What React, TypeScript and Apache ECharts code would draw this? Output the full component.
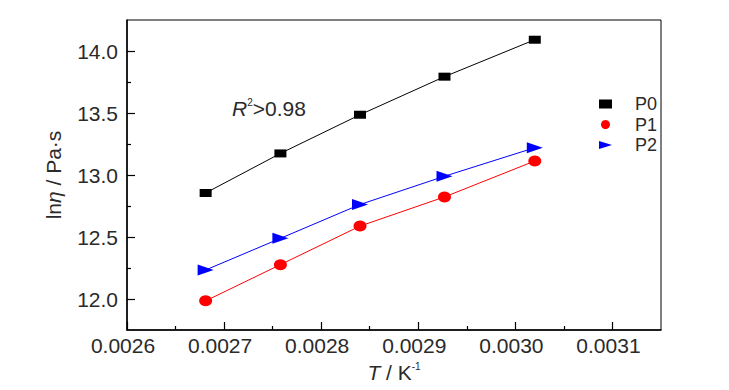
import React, { useEffect, useRef } from 'react';
import * as echarts from 'echarts';

const invT = [0.002681, 0.002758, 0.00284, 0.002927, 0.00302];
const p0 = [12.855, 13.174, 13.486, 13.793, 14.091];
const p1 = [11.985, 12.277, 12.588, 12.823, 13.113];
const p2 = [12.234, 12.489, 12.762, 12.99, 13.22];
const seriesNames = ['P0', 'P1', 'P2'];
const xTicks = [0.0026, 0.0027, 0.0028, 0.0029, 0.003, 0.0031];
const xMinorTicks = [0.00265, 0.00275, 0.00285, 0.00295, 0.00305];
const yTicks = [12.0, 12.5, 13.0, 13.5, 14.0];
const yMinorTicks = [12.25, 12.75, 13.25, 13.75];
const annotation = '>0.98';

const FONT = "'Liberation Sans Narrow','Arial Narrow','Liberation Sans',Arial,sans-serif";
const TXT = '#2a2a2a';
const FS = 21;

export default function App() {
  const ref = useRef<HTMLDivElement>(null);
  useEffect(() => {
    if (!ref.current) return;
    const chart = echarts.init(ref.current, null, { renderer: 'svg' });
    const pts = (ys: number[]) => invT.map((x, i) => [x, ys[i]]);
    const baseText = { fontFamily: FONT, color: TXT };
    chart.setOption({
      animation: false,
      grid: { left: 127, right: 68, top: 20, bottom: 60, show: true, borderColor: '#000', borderWidth: 1, backgroundColor: 'transparent' },
      legend: {
        orient: 'vertical',
        left: 599,
        top: 94,
        padding: 0,
        itemWidth: 13,
        itemHeight: 9,
        itemGap: 0.5,
        data: [
          { name: seriesNames[0], icon: 'rect' },
          { name: seriesNames[1], icon: 'circle' },
          { name: seriesNames[2], icon: 'path://M0,0L16,5L0,10Z' },
        ],
        textStyle: { ...baseText, fontSize: 18, lineHeight: 20, padding: [0, 0, 0, 18] },
      },
      xAxis: [
        {
          type: 'value', min: 0.0026, max: 0.00315, position: 'bottom',
          axisLine: { show: true, lineStyle: { color: '#000', width: 1.5 } },
          splitLine: { show: false },
          axisTick: { show: true, inside: true, length: 8, customValues: xTicks, lineStyle: { color: '#000', width: 1.2 } },
          axisLabel: { customValues: xTicks, formatter: (v: number) => v.toFixed(4), fontSize: FS, margin: 5, padding: [0, 8, 0, 0], ...baseText },
          name: '{i|T}{n| / K}{s|-1}',
          nameLocation: 'middle',
          nameGap: 31,
          nameTextStyle: {
            rich: {
              i: { ...baseText, fontSize: FS, fontStyle: 'italic', lineHeight: 22, verticalAlign: 'bottom' },
              n: { ...baseText, fontSize: FS, lineHeight: 22, verticalAlign: 'bottom' },
              s: { ...baseText, fontSize: 10, lineHeight: 11, verticalAlign: 'top' },
            },
          },
        },
        {
          type: 'value', min: 0.0026, max: 0.00315, position: 'bottom',
          axisLine: { show: false }, splitLine: { show: false },
          axisTick: { show: true, inside: true, length: 4, customValues: xMinorTicks, lineStyle: { color: '#000', width: 1.2 } },
          axisLabel: { show: false },
        },
      ],
      yAxis: [
        {
          type: 'value', min: 11.75, max: 14.25, position: 'left',
          axisLine: { show: true, lineStyle: { color: '#000', width: 1.5 } },
          splitLine: { show: false },
          axisTick: { show: true, inside: true, length: 8, customValues: yTicks, lineStyle: { color: '#000', width: 1.2 } },
          axisLabel: { customValues: yTicks, formatter: (v: number) => v.toFixed(1), fontSize: FS, margin: 9, ...baseText },
          name: '{n|ln}{i|η}{n| / Pa·s}',
          nameLocation: 'middle',
          nameRotate: 90,
          nameGap: 63,
          nameTextStyle: {
            rich: {
              i: { ...baseText, fontSize: FS, fontStyle: 'italic' },
              n: { ...baseText, fontSize: FS },
            },
          },
        },
        {
          type: 'value', min: 11.75, max: 14.25, position: 'left',
          axisLine: { show: false }, splitLine: { show: false },
          axisTick: { show: true, inside: true, length: 4, customValues: yMinorTicks, lineStyle: { color: '#000', width: 1.2 } },
          axisLabel: { show: false },
        },
      ],
      graphic: [
        {
          type: 'text', left: 232, top: 97,
          style: {
            text: '{i|R}{s|2}{n|' + annotation + '}',
            rich: {
              i: { fontFamily: FONT, fill: TXT, fontSize: FS, fontStyle: 'italic', lineHeight: 22, verticalAlign: 'bottom' },
              n: { fontFamily: FONT, fill: TXT, fontSize: FS, lineHeight: 22, verticalAlign: 'bottom' },
              s: { fontFamily: FONT, fill: TXT, fontSize: 10, lineHeight: 11, verticalAlign: 'top' },
            },
          },
        },
      ],
      series: [
        { name: seriesNames[0], type: 'line', data: pts(p0), symbol: 'rect', symbolSize: [12, 8], color: '#000', lineStyle: { width: 1, color: '#000' }, itemStyle: { color: '#000' } },
        { name: seriesNames[1], type: 'line', data: pts(p1), symbol: 'circle', symbolSize: [13, 11], color: '#ff0000', lineStyle: { width: 1, color: '#ff0000' }, itemStyle: { color: '#ff0000' } },
        { name: seriesNames[2], type: 'line', data: pts(p2), symbol: 'triangle', symbolRotate: -90, symbolSize: [11, 16], color: '#0000ff', lineStyle: { width: 1, color: '#0000ff' }, itemStyle: { color: '#0000ff' } },
      ],
    });
    return () => chart.dispose();
  }, []);
  return <div ref={ref} style={{ width: 729, height: 390, position: 'absolute', left: 0, top: 0 }} />;
}
